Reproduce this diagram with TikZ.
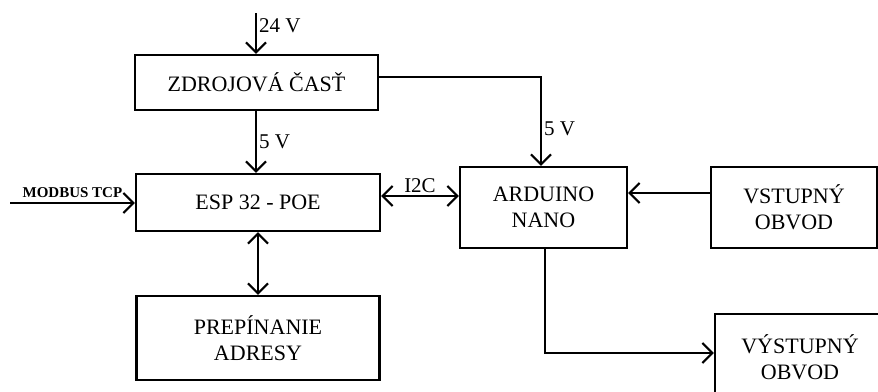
\documentclass[tikz,border=0pt]{standalone}
\usepackage{fontspec}
\setmainfont{Liberation Serif}
\usetikzlibrary{arrows.meta}
\usetikzlibrary{calc}

\begin{document}
\begin{tikzpicture}[
        x=1pt, y=-1pt,
        line width=2.2pt,
        blok/.style={draw, rectangle, align=center, inner sep=0pt,
            font=\fontsize{22}{26}\selectfont},
        sipka/.style={-{Straight Barb[length=10pt, width=20pt]}},
        obe/.style={{Straight Barb[length=10pt, width=20pt]}-{Straight Barb[length=10pt, width=20pt]}},
        popis/.style={font=\fontsize{21}{23}\selectfont, inner sep=2pt}
    ]
        \useasboundingbox (0,0) rectangle (878,391);

        % --- Bloky ---
        \node[blok, minimum width=243pt, minimum height=55pt] (zdroj) at (256.5,82.5) {ZDROJOVÁ ČASŤ};
        \node[blok, minimum width=244pt, minimum height=57pt] (esp) at (258,202.5) {ESP 32 - POE};
        \node[blok, minimum width=243pt, minimum height=84pt] (prep) at (258,338) {PREPÍNANIE\\ADRESY};
        \node[blok, minimum width=167pt, minimum height=81pt] (arduino) at (543.5,207.5) {ARDUINO\\NANO};
        \node[blok, minimum width=166pt, minimum height=81pt] (vstup) at (794,207.5) {VSTUPNÝ\\OBVOD};
        \node[blok, minimum width=170pt, minimum height=86pt] (vystup) at (800,357) {VÝSTUPNÝ\\OBVOD};

        % --- Napajanie ---
        \coordinate (in24) at (256,13);
        \draw[sipka] (in24) -- (in24 |- zdroj.north) node[popis, pos=0.3, right] {24 V};
        \draw[sipka] (zdroj.south -| in24) -- (esp.north -| in24) node[popis, midway, right] {5 V};

        \coordinate (roh5v) at (541,77);
        \draw[sipka] (zdroj.east |- roh5v) -- (roh5v) -- (roh5v |- arduino.north)
            node[popis, pos=0.58, right] {5 V};

        % --- Komunikacia ---
        \coordinate (modbus) at (10,203);
        \draw[sipka] (modbus) -- (modbus -| esp.west)
            node[midway, above, font=\bfseries\fontsize{15}{17}\selectfont, inner sep=4pt] {MODBUS TCP};

        \coordinate (i2c) at (420,196);
        \draw[obe] (i2c -| esp.east) -- (i2c -| arduino.west) node[popis, midway, above] {I2C};

        \draw[obe] (esp.south) -- (prep.north);

        % --- Vstupy a vystupy ---
        \coordinate (vst) at (668,193);
        \draw[sipka] (vst -| vstup.west) -- (vst -| arduino.east);

        \coordinate (vyst) at (545,353);
        \draw[sipka] (vyst |- arduino.south) -- (vyst) -- (vyst -| vystup.west);

    \end{tikzpicture}
\end{document}
